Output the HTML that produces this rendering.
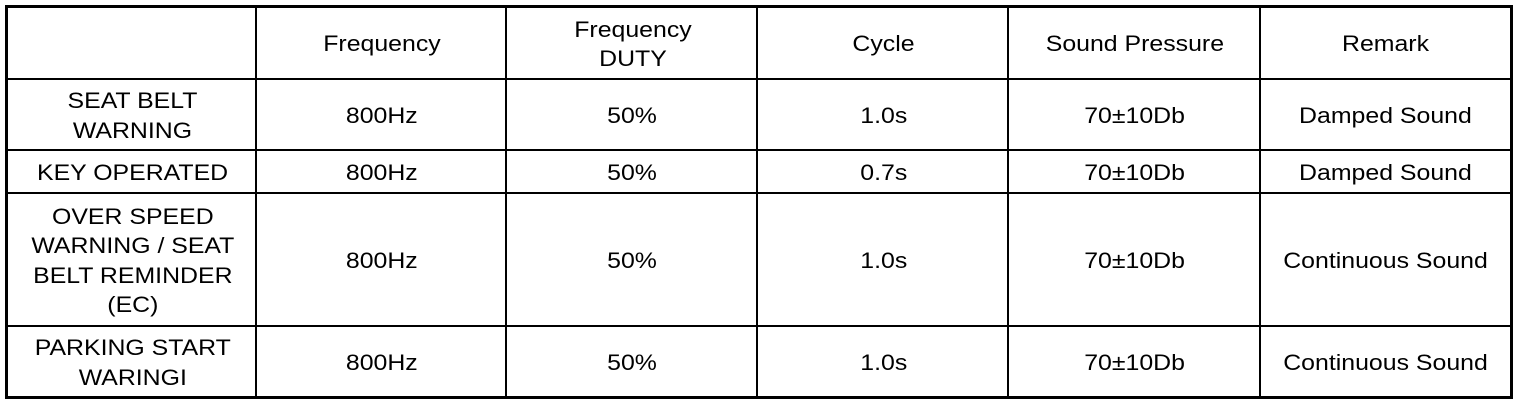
<!DOCTYPE html>
<html><head><meta charset="utf-8"><style>
html,body{margin:0;padding:0;background:#fff;width:1520px;height:404px;overflow:hidden}
.ln{position:absolute;background:#000}
.t{position:absolute;font-family:"Liberation Sans",sans-serif;font-size:22px;line-height:29.5px;color:#000;text-align:center;display:flex;align-items:center;justify-content:center;padding-top:2px;box-sizing:border-box}
.t>div{transform:scaleX(1.13);white-space:nowrap}
</style></head><body>
<div class="ln" style="left:5px;top:5px;width:1508px;height:3px"></div>
<div class="ln" style="left:5px;top:396px;width:1508px;height:3px"></div>
<div class="ln" style="left:5px;top:5px;width:3px;height:394px"></div>
<div class="ln" style="left:1510px;top:5px;width:3px;height:394px"></div>
<div class="ln" style="left:255px;top:5px;width:2px;height:394px"></div>
<div class="ln" style="left:505px;top:5px;width:2px;height:394px"></div>
<div class="ln" style="left:756px;top:5px;width:2px;height:394px"></div>
<div class="ln" style="left:1007px;top:5px;width:2px;height:394px"></div>
<div class="ln" style="left:1259px;top:5px;width:2px;height:394px"></div>
<div class="ln" style="left:5px;top:78px;width:1508px;height:2px"></div>
<div class="ln" style="left:5px;top:149px;width:1508px;height:2px"></div>
<div class="ln" style="left:5px;top:192px;width:1508px;height:2px"></div>
<div class="ln" style="left:5px;top:325px;width:1508px;height:2px"></div>
<div id="c"></div>
<script>
var cols=[8,257,507,758,1009,1261,1510];
var rows=[8,78,151,192,327,396];
var d=[["","Frequency","Frequency<br>DUTY","Cycle","Sound Pressure","Remark"],
["SEAT BELT<br>WARNING","800Hz","50%","1.0s","70&plusmn;10Db","Damped Sound"],
["KEY OPERATED","800Hz","50%","0.7s","70&plusmn;10Db","Damped Sound"],
["OVER SPEED<br>WARNING / SEAT<br>BELT REMINDER<br>(EC)","800Hz","50%","1.0s","70&plusmn;10Db","Continuous Sound"],
["PARKING START<br>WARINGI","800Hz","50%","1.0s","70&plusmn;10Db","Continuous Sound"]];
var h="";
for(var r=0;r<5;r++)for(var c=0;c<6;c++){
h+='<div class="t" style="left:'+cols[c]+'px;top:'+rows[r]+'px;width:'+(cols[c+1]-cols[c])+'px;height:'+(rows[r+1]-rows[r])+'px"><div>'+d[r][c]+'</div></div>';}
document.getElementById("c").innerHTML=h;
</script>
</body></html>
